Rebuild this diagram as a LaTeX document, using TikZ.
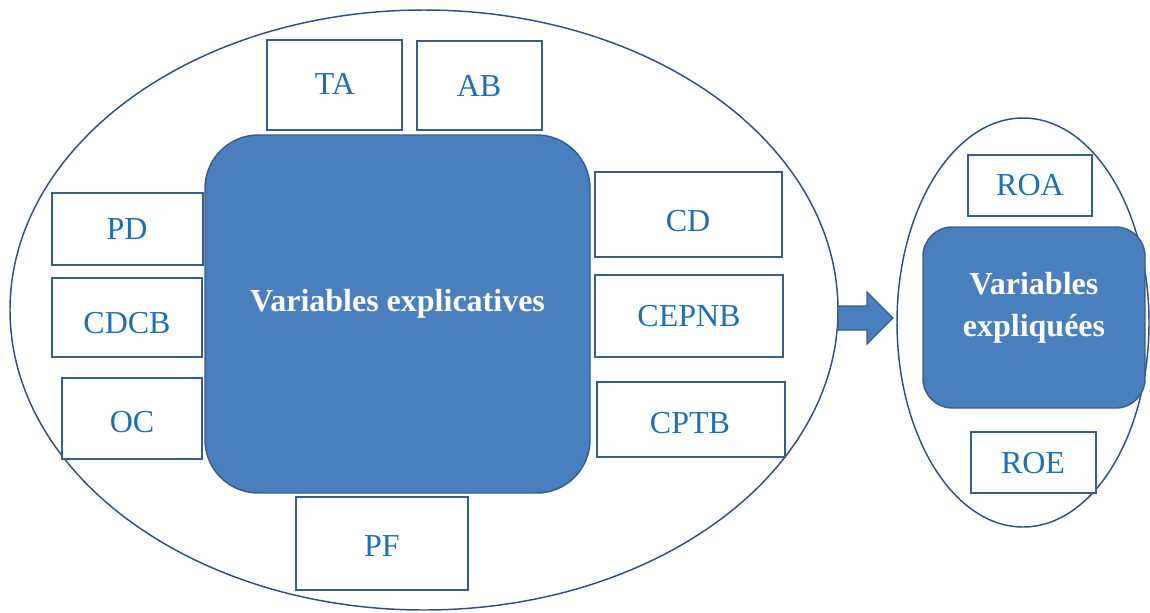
\documentclass[tikz,border=0pt]{standalone}
\usepackage{fontspec}
\setmainfont{Liberation Serif}
\usetikzlibrary{shapes.geometric}
\definecolor{fillblue}{RGB}{74,127,190}
\definecolor{edgeblue}{RGB}{56,93,138}
\definecolor{lineblue}{RGB}{47,79,127}
\definecolor{txtblue}{RGB}{30,110,180}
\tikzset{
  ring/.style={ellipse, draw=lineblue, line width=1.1pt, inner sep=0pt},
  varbox/.style 2 args={rectangle, draw=edgeblue, line width=1.4pt, fill=white, inner sep=0pt,
    minimum width=#1*0.75pt, minimum height=#2*0.75pt},
  vartext/.style={text=txtblue, inner sep=0pt, text depth=0pt, font=\fontsize{24}{28}\selectfont},
  bigbox/.style={rectangle, draw=edgeblue, line width=1.1pt, fill=fillblue, inner sep=0pt},
  bigtext/.style={text=white, font=\fontsize{24}{31.5}\selectfont\bfseries, align=center, inner sep=0pt},
}
\begin{document}
\begin{tikzpicture}[x=0.75pt,y=-0.75pt]
\useasboundingbox (0,0) rectangle (1150,612);
% outer ellipses
\node[ring, minimum width=828*0.75pt, minimum height=600*0.75pt] (left) at (424,310) {};
\node[ring, minimum width=252*0.75pt, minimum height=409*0.75pt] (right) at (1023,322.5) {};
% main rounded box
\node[bigbox, rounded corners=40pt, minimum width=385*0.75pt, minimum height=358*0.75pt] (expl) at (397.5,314) {};
\node[bigtext] (explt) at (397.5,304) {Variables explicatives};
% boxes
\node[varbox={135}{90}] (ta) at (334.5,85) {};
\node[vartext] (tat) at (335,84) {TA};
\node[varbox={125}{89}] (ab) at (479.5,85.5) {};
\node[vartext] (abt) at (479,86) {AB};
\node[varbox={151}{72}] (pd) at (127.5,229) {};
\node[vartext] (pdt) at (127,229) {PD};
\node[varbox={150}{79}] (cdcb) at (127,317.5) {};
\node[vartext] (cdcbt) at (127,323) {CDCB};
\node[varbox={140}{81}] (oc) at (132,418.5) {};
\node[vartext] (oct) at (132,422) {OC};
\node[varbox={187}{85}] (cd) at (688.5,214.5) {};
\node[vartext] (cdt) at (688,221) {CD};
\node[varbox={188}{82}] (cepnb) at (689,316) {};
\node[vartext] (cepnbt) at (689,316) {CEPNB};
\node[varbox={188}{75}] (cptb) at (691,419.5) {};
\node[vartext] (cptbt) at (690,423) {CPTB};
\node[varbox={172}{93}] (pf) at (382,543.5) {};
\node[vartext] (pft) at (382,546) {PF};
% arrow
\draw[fill=fillblue, draw=edgeblue, line width=1pt] (838,306) -- (867,306) -- (867,292) -- (893,318) -- (867,344) -- (867,330) -- (838,330) -- cycle;
% right side
\node[varbox={124}{61}] (roa) at (1030,185.5) {};
\node[vartext] (roat) at (1030,185) {ROA};
\node[bigbox, rounded corners=22pt, minimum width=222*0.75pt, minimum height=181*0.75pt] (expq) at (1034,317.5) {};
\node[bigtext] (expqt) at (1034,308) {Variables\\expliquées};
\node[varbox={125}{61}] (roe) at (1033.5,462.5) {};
\node[vartext] (roet) at (1033,463) {ROE};
\end{tikzpicture}
\end{document}
